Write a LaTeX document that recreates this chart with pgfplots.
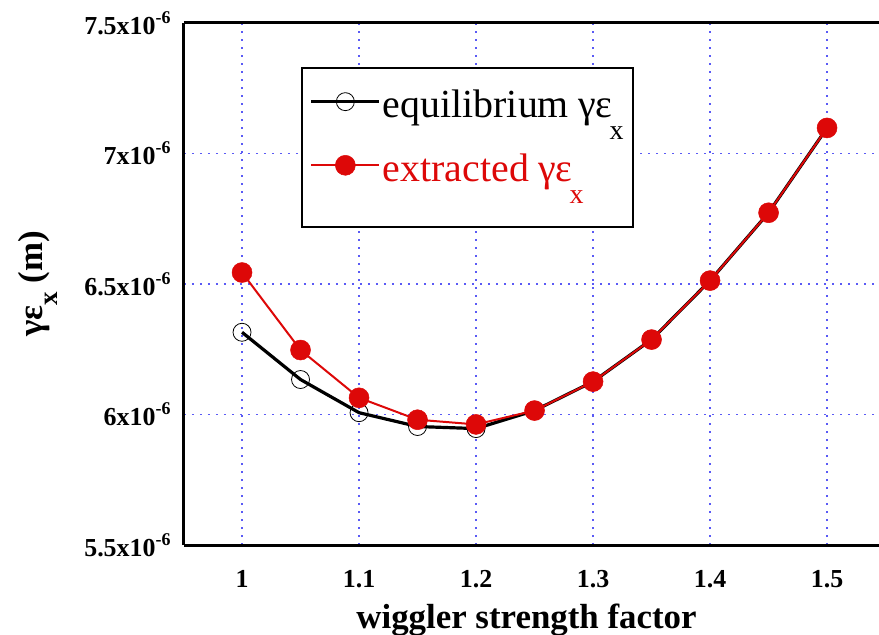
\documentclass[border=0pt]{standalone}
\usepackage{pgfplots}
\pgfplotsset{compat=1.18}
\usepackage{fontspec}
\setmainfont{Liberation Serif}[BoldFont={Liberation Serif Bold}]
\definecolor{myred}{RGB}{221,8,8}
\definecolor{gridblue}{RGB}{90,90,245}
\newcommand{\tl}[1]{#1x10\raisebox{0.42em}{\fontsize{18}{18}\selectfont -6}}
\newcommand{\lsub}{\kern-3bp\raisebox{-0.55em}{\fontsize{28}{28}\selectfont x}}
\begin{document}
\begin{tikzpicture}
\begin{axis}[
  name=ax,
  scale only axis,
  width=695bp, height=522bp,
  xmin=0.9504, xmax=1.5444,
  ymin=5.5, ymax=7.5,
  axis x line*=box, axis y line*=left,
  axis line style={line width=3bp, black},
  xtick={1,1.1,1.2,1.3,1.4,1.5},
  xticklabels={1,1.1,1.2,1.3,1.4,1.5},
  ytick={5.5,6,6.5,7,7.5},
  yticklabels={\tl{5.5},\tl{6},\tl{6.5},\tl{7},\tl{7.5}},
  major tick length=0pt,
  tick label style={font=\fontsize{26}{30}\selectfont\bfseries},
  xticklabel style={yshift=-22bp},
  yticklabel style={xshift=-10bp},
  grid=major,
  major grid style={gridblue, line width=1.6bp, dash pattern=on 1.6bp off 6.4bp},
  xlabel={\fontsize{35}{40}\selectfont\bfseries wiggler strength factor},
  ylabel={\fontsize{35}{40}\selectfont\bfseries γε\raisebox{-0.45em}{\fontsize{27}{27}\selectfont x} (m)},
  xlabel style={at={(axis description cs:0.4928,-0.144)}, anchor=center},
  ylabel style={at={(axis description cs:-0.21,0.5)}, anchor=center, rotate=0},
  legend style={at={(0.168,0.916)}, anchor=north west, draw=black, line width=2bp, fill=white,
    font=\fontsize{40}{44}\selectfont, inner xsep=8bp, inner ysep=20bp, row sep=8bp,
    nodes={text depth=24bp}},
  legend cell align=left,
  legend image code/.code={\draw[mark repeat=2,mark phase=2,#1] plot coordinates {(0bp,14bp) (34bp,14bp) (68bp,14bp)};},
]
\addplot[black, line width=3.2bp, mark=o, mark size=9bp, mark options={line width=0.8bp, black, fill=none}]
coordinates {(1,6.315) (1.05,6.134) (1.1,6.007) (1.15,5.954) (1.2,5.946) (1.25,6.015) (1.3,6.126) (1.35,6.287) (1.4,6.513) (1.45,6.773) (1.5,7.098)};
\addlegendentry{equilibrium γε\lsub}
\addplot[myred, line width=2bp, mark=*, mark size=10bp, mark options={line width=0.5bp, myred, fill=myred}]
coordinates {(1,6.544) (1.05,6.247) (1.1,6.064) (1.15,5.980) (1.2,5.962) (1.25,6.015) (1.3,6.126) (1.35,6.287) (1.4,6.513) (1.45,6.773) (1.5,7.098)};
\addlegendentry{\color{myred}extracted γε\lsub}
\end{axis}
\pgfresetboundingbox
\path[use as bounding box] ([xshift=-184bp,yshift=-90bp]ax.south west) rectangle ([yshift=23bp]ax.north east);
\end{tikzpicture}
\end{document}
